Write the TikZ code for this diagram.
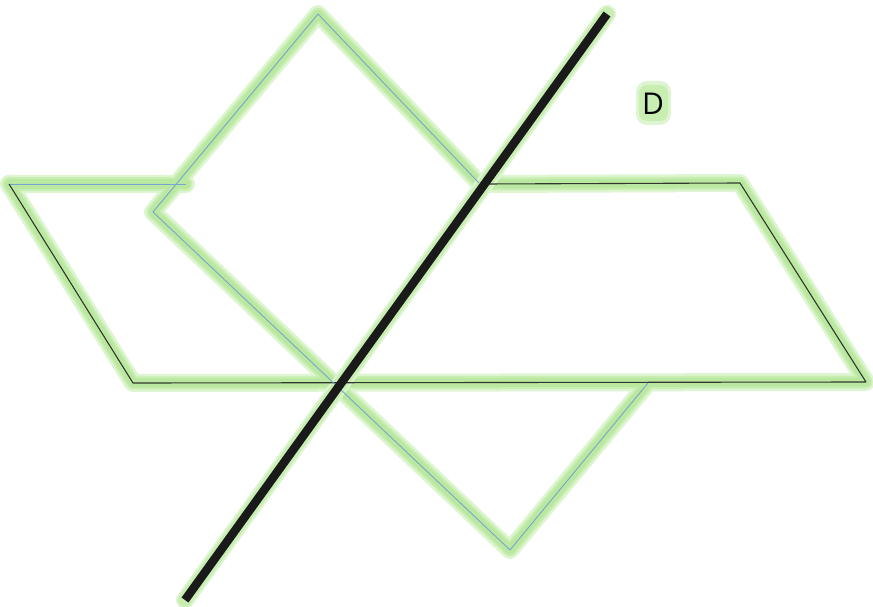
\documentclass[tikz,border=0pt]{standalone}
\usepackage{fontspec}
\setmainfont{Open Sans}
\definecolor{glowA}{RGB}{222,245,210}
\definecolor{glowB}{RGB}{200,238,178}
\definecolor{glowC}{RGB}{186,232,160}
\definecolor{planeblue}{RGB}{120,165,205}
\definecolor{planeblack}{RGB}{50,55,45}
\definecolor{axisblack}{RGB}{26,26,26}
\tikzset{
  glowwide/.style={draw=glowA, line width=18pt, line join=round, line cap=round},
  glowmid/.style={draw=glowB, line width=13pt, line join=round, line cap=round},
  glowcore/.style={draw=glowC, line width=9pt, line join=round, line cap=round},
  bluedge/.style={draw=planeblue, line width=0.9pt, line join=round},
  blackedge/.style={draw=planeblack, line width=1.1pt, line join=round},
  axisline/.style={draw=axisblack, line width=8.5pt, line cap=butt},
  label/.style={font=\fontsize{30}{30}\selectfont, text=black, inner sep=0pt}
}
\begin{document}
\begin{tikzpicture}[x=1pt,y=-1pt]
\useasboundingbox (0,0) rectangle (873,607);
% horizontal plane
\coordinate (HA) at (9,184);
\coordinate (HB) at (740,183);
\coordinate (HC) at (866,382);
\coordinate (HD) at (133,383);
\coordinate (HT) at (186,184);
\coordinate (HX) at (484,184);
% tilted plane
\coordinate (TT) at (318,14);
\coordinate (TL) at (153,212);
\coordinate (TB) at (510,550);
\coordinate (TR) at (648,383);
\coordinate (TX) at (479,183);
% axis D
\coordinate (D1) at (607,14);
\coordinate (D2) at (185,600);
% glow layers
\foreach \s in {glowwide,glowmid,glowcore}{
  \path[\s] (HA) -- (HT);
  \path[\s] (HX) -- (HB) -- (HC) -- (HD) -- (HA);
  \path[\s] (TX) -- (TT) -- (TL) -- (TB) -- (TR);
}
\path[draw=glowA, line width=18pt, line cap=round] (D1) -- (D2);
\path[draw=glowB, line width=14pt, line cap=round] (D1) -- (D2);
% glow behind label
\fill[glowA, rounded corners=11pt] (636,81) rectangle (671,125);
\fill[glowB, rounded corners=8pt] (639,85) rectangle (668,121);
% edges
\draw[bluedge] (HA) -- (HT);
\draw[blackedge] (HX) -- (HB) -- (HC) -- (HD) -- (HA);
\draw[bluedge] (TX) -- (TT) -- (TL) -- (TB) -- (TR);
% axis
\draw[axisline] (D1) -- (D2);
\node[label] (Dlab) at (653,104) {D};
\end{tikzpicture}
\end{document}
